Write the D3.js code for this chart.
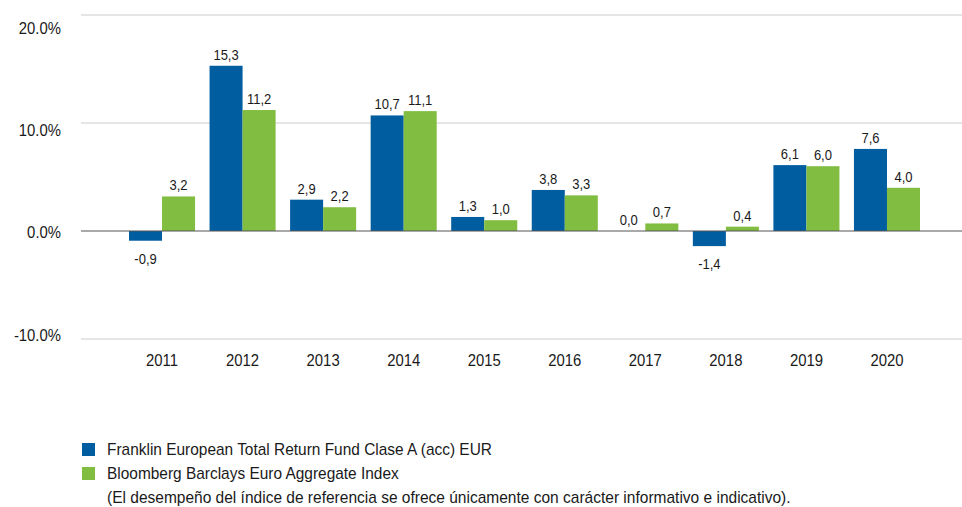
<!DOCTYPE html>
<html>
<head>
<meta charset="utf-8">
<script src="https://cdn.jsdelivr.net/npm/d3@7"></script>
<style>
  body { margin: 0; background: #fff; }
  svg text { font-family: "Liberation Sans", Arial, sans-serif; fill: #1a1a1a; }
</style>
</head>
<body>
<svg id="chart" width="962" height="507"></svg>
<script>
// data
const years = ["2011", "2012", "2013", "2014", "2015", "2016", "2017", "2018", "2019", "2020"];
const fund = [-0.9, 15.3, 2.9, 10.7, 1.3, 3.8, 0.0, -1.4, 6.1, 7.6];
const index = [3.2, 11.2, 2.2, 11.1, 1.0, 3.3, 0.7, 0.4, 6.0, 4.0];
const yTicks = [-10, 0, 10, 20];
const seriesNames = [
    "Franklin European Total Return Fund Clase A (acc) EUR",
    "Bloomberg Barclays Euro Aggregate Index"
];
const colors = ["#005da0", "#80bd41"];
const footnote = "(El desempeño del índice de referencia se ofrece únicamente con carácter informativo e indicativo).";

const svg = d3.select("#chart");
const plot = { left: 81, right: 962 };

const y = d3.scaleLinear().domain([-10, 20]).range([339, 15]);
// tick labels sit a little off their gridlines in the original
const yLabel = d3.scaleLinear().domain([-10, 20]).range([335, 28]);

const x0 = d3.scaleBand().domain(years).range([129, 920]).paddingInner(0.18).paddingOuter(0);
const x1 = d3.scaleBand().domain([0, 1]).range([0, x0.bandwidth()]);

const fmt = v => d3.format(".1f")(v).replace(".", ",").replace("\u2212", "-");

// put a text at (x,y) and squeeze it horizontally (original font is narrower than Arial)
function place(sel, fx, fy, squeeze = 0.93) {
    sel.attr("transform", (d, i) => `translate(${fx(d, i)},${fy(d, i)}) scale(${squeeze},1)`)
        .attr("dy", "0.35em");
}

// gridlines
svg.append("g")
    .selectAll("line")
    .data(yTicks.filter(d => d !== 0))
    .join("line")
    .attr("x1", plot.left).attr("x2", plot.right)
    .attr("y1", d => y(d)).attr("y2", d => y(d))
    .attr("stroke", "#dcdcdc").attr("stroke-width", 1.5);

// y labels
svg.append("g")
    .selectAll("text")
    .data(yTicks)
    .join("text")
    .call(place, () => 61, d => yLabel(d))
    .attr("text-anchor", "end")
    .style("font-size", "16px")
    .text(d => d3.format(".1f")(d).replace("\u2212", "-") + "%");

// bars
const rows = years.map((yr, i) => ({ year: yr, values: [fund[i], index[i]] }));

const groups = svg.append("g")
    .selectAll("g")
    .data(rows)
    .join("g")
    .attr("transform", d => `translate(${x0(d.year)},0)`);

groups.selectAll("rect")
    .data(d => d.values.map((v, k) => ({ v, k })))
    .join("rect")
    .attr("x", d => x1(d.k))
    .attr("width", x1.bandwidth())
    .attr("y", d => y(Math.max(0, d.v)))
    .attr("height", d => Math.abs(y(d.v) - y(0)))
    .attr("fill", d => colors[d.k]);

groups.selectAll("text")
    .data(d => d.values.map((v, k) => ({ v, k })))
    .join("text")
    .call(place, d => x1(d.k) + x1.bandwidth() / 2, d => d.v < 0 ? y(d.v) + 18 : y(d.v) - 11)
    .attr("text-anchor", "middle")
    .style("font-size", "14px")
    .text(d => fmt(d.v));

// zero line
svg.append("line")
    .attr("x1", plot.left).attr("x2", plot.right)
    .attr("y1", y(0)).attr("y2", y(0))
    .attr("stroke", "#555").attr("stroke-width", 1.2);

// x labels
svg.append("g")
    .selectAll("text")
    .data(years)
    .join("text")
    .call(place, d => x0(d) + x0.bandwidth() / 2, () => 360)
    .attr("text-anchor", "middle")
    .style("font-size", "16px")
    .text(d => d);

// legend
const legend = svg.append("g").attr("transform", "translate(82,443)");
const item = legend.selectAll("g")
    .data(seriesNames)
    .join("g")
    .attr("transform", (d, i) => `translate(0,${i * 24})`);
item.append("rect")
    .attr("width", 13).attr("height", 13)
    .attr("fill", (d, i) => colors[i]);
item.append("text")
    .call(place, () => 25, () => 6, 0.965)
    .style("font-size", "16px")
    .text(d => d);

svg.append("text")
    .datum(footnote)
    .call(place, () => 107, () => 497, 0.97)
    .style("font-size", "16px")
    .text(d => d);
</script>
</body>
</html>
